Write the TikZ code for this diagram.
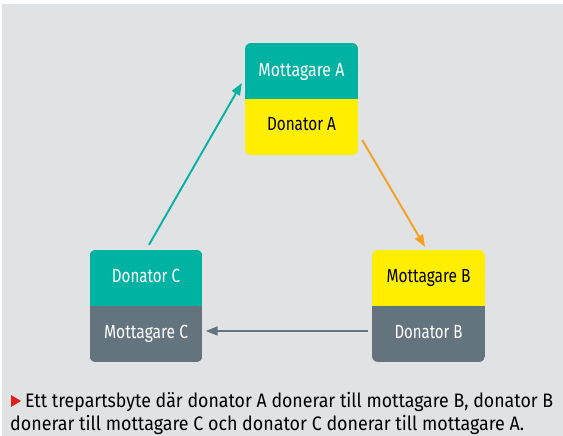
\documentclass[tikz,border=0pt]{standalone}
\usepackage{fontspec}
\setmainfont{Fira Sans}
\usetikzlibrary{arrows.meta,calc}
\definecolor{tealc}{RGB}{0,178,162}
\definecolor{yellowc}{RGB}{255,238,0}
\definecolor{slatec}{RGB}{99,116,126}
\definecolor{orangec}{RGB}{245,160,35}
\definecolor{bgc}{RGB}{225,226,228}
\definecolor{redc}{RGB}{226,30,30}
\begin{document}
\begin{tikzpicture}[x=1pt,y=1pt,
  card/.style 2 args={minimum width=113pt,minimum height=112pt,inner sep=0pt,
    rounded corners=6pt,
    path picture={
      \fill[#1,sharp corners] (path picture bounding box.north west) rectangle (path picture bounding box.east);
      \fill[#2,sharp corners] (path picture bounding box.west) rectangle (path picture bounding box.south east);}},
  lbl/.style={anchor=base,inner sep=0pt,font=\fontsize{19}{22}\selectfont},
  captext/.style={anchor=base west,inner sep=0pt,font=\fontsize{19.5}{23}\selectfont},
  link/.style={line width=1.9pt,-{Triangle[length=12pt,width=9pt]}}]
\useasboundingbox (0,0) rectangle (563,436);
\fill[bgc] (2,0) rectangle (563,432);
% cards
\node[card={tealc}{yellowc}] (A) at (301.5,337) {};
\node[card={tealc}{slatec}] (C) at (146,130) {};
\node[card={yellowc}{slatec}] (B) at (428.5,130) {};
% labels
\node[lbl,text=white] (At) at ($(A.north)+(0,-34)$) {\resizebox{86pt}{\height}{Mottagare A}};
\node[lbl,text=black] (Ab) at ($(A.north)+(0,-88)$) {\resizebox{69pt}{\height}{Donator A}};
\node[lbl,text=white] (Ct) at ($(C.north)+(0,-33)$) {\resizebox{68pt}{\height}{Donator C}};
\node[lbl,text=white] (Cb) at ($(C.north)+(0,-89)$) {\resizebox{84pt}{\height}{Mottagare C}};
\node[lbl,text=black] (Bt) at ($(B.north)+(0,-33)$) {\resizebox{84pt}{\height}{Mottagare B}};
\node[lbl,text=white] (Bb) at ($(B.north)+(0,-89)$) {\resizebox{68pt}{\height}{Donator B}};
% arrows
\draw[link,tealc] ($(C.north)+(3,5)$) -- ($(A.west)+(-3,16)$);
\draw[link,orangec] ($(A.east)+(4,-41)$) -- ($(B.north)+(-3.5,3)$);
\draw[link,slatec] ($(B.west)+(-4,-25)$) -- ($(C.east)+(3,-25)$);
% caption
\fill[redc] (11,41) -- (11,29) -- (21,35) -- cycle;
\node[captext] (L1) at (25,28) {\resizebox{528pt}{\height}{Ett trepartsbyte där donator A donerar till mottagare B, donator B}};
\node[captext] (L2) at (10,5) {\resizebox{514pt}{\height}{donerar till mottagare C och donator C donerar till mottagare A.}};
\end{tikzpicture}
\end{document}
